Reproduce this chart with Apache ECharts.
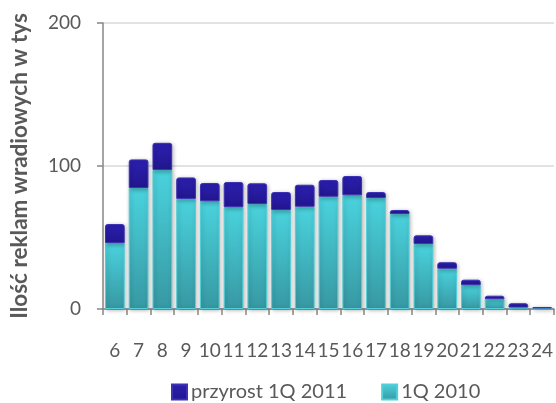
<!DOCTYPE html>
<html><head><meta charset="utf-8">
<script src="https://cdn.jsdelivr.net/npm/echarts@6/dist/echarts.min.js"></script>
<style>html,body{margin:0;padding:0;background:#fff}#c{width:556px;height:403px}</style>
</head><body><div id="c"></div>
<script>
var categories = ['6','7','8','9','10','11','12','13','14','15','16','17','18','19','20','21','22','23','24'];
var base2010 = [46, 84.6, 97.2, 77, 75.3, 71.2, 73.4, 69.2, 71.5, 78.5, 79.5, 77.6, 66.4, 45.5, 28.2, 16.6, 6.8, 1, 0.4];
var growth2011 = [13.4, 20, 19, 15, 12.8, 17.6, 14.5, 12.6, 15.4, 11.7, 13.5, 4.2, 2.8, 6, 4.5, 3.9, 2.5, 3, 1];
var yTicks = [0, 100, 200];

var chart = echarts.init(document.getElementById('c'), null, {renderer:'canvas'});
var font = 'Lato, "Open Sans", sans-serif';
chart.setOption({
  animation:false,
  grid:{left:101, right:0, top:23, bottom:94, containLabel:false},
  legend:{
    top:377, left:166, itemWidth:15, itemHeight:15, itemGap:34,
    icon:'rect',
    textStyle:{fontFamily:font, fontSize:20, color:'#595959', padding:[0,0,0,-1], lineHeight:16},
    data:['przyrost 1Q 2011','1Q 2010']
  },
  xAxis:{
    type:'category', data:categories,
    axisLine:{lineStyle:{color:'#868686', width:1.5}},
    axisTick:{show:true, length:6, alignWithLabel:false, lineStyle:{color:'#868686', width:1.5}},
    axisLabel:{fontFamily:font, fontSize:19, color:'#595959', margin:32, interval:0}
  },
  yAxis:{
    type:'value', min:0, max:200, interval:100,
    name:'Ilość reklam wradiowych w tys', nameLocation:'middle', nameGap:72, nameRotate:90,
    nameTextStyle:{fontFamily:font, fontSize:22.5, fontWeight:'bold', color:'#595959'},
    axisLine:{show:true, lineStyle:{color:'#868686', width:1.5}},
    axisTick:{show:true, length:6, lineStyle:{color:'#868686', width:1.5}},
    splitLine:{lineStyle:{color:'#d9d9d9', width:1.5}},
    axisLabel:{fontFamily:font, fontSize:19, color:'#595959', margin:22,
      formatter:function(v){return yTicks.indexOf(v)>=0 ? String(v) : '';}}
  },
  series:[
    {
      name:'1Q 2010', type:'bar', stack:'a', data:base2010, barCategoryGap:'17%',
      itemStyle:{
        color:new echarts.graphic.LinearGradient(0,0,0,1,[{offset:0,color:'#4ad3de'},{offset:1,color:'#3798a2'}]),
        borderColor:'#52cfd8', borderWidth:1,
        shadowColor:'rgba(0,0,0,0.28)', shadowBlur:4, shadowOffsetX:1, shadowOffsetY:1
      }
    },
    {
      name:'przyrost 1Q 2011', type:'bar', stack:'a', data:growth2011,
      itemStyle:{
        color:new echarts.graphic.LinearGradient(0,0,0,1,[{offset:0,color:'#2c1fb0'},{offset:1,color:'#22168f'}]),
        borderColor:'#3b32b4', borderWidth:1, borderRadius:[2,2,0,0],
        shadowColor:'rgba(0,0,0,0.28)', shadowBlur:4, shadowOffsetX:1, shadowOffsetY:1
      }
    }
  ]
});
</script></body></html>
